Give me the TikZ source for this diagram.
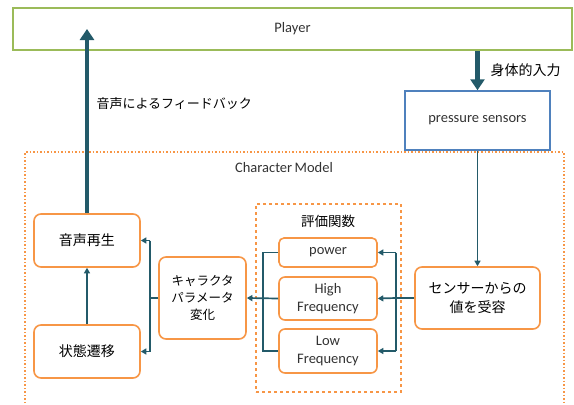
\documentclass[tikz,border=0pt]{standalone}
\usepackage{fontspec}
\setmainfont{Carlito}
\newfontfamily\jp{Noto Sans CJK JP}
\usetikzlibrary{arrows.meta}
\definecolor{ora}{RGB}{247,150,70}
\definecolor{teal2}{RGB}{35,90,105}
\definecolor{grn}{RGB}{155,187,89}
\definecolor{blu}{RGB}{79,129,189}
\tikzset{
  obox/.style={draw=ora,line width=1.6pt,rounded corners=7pt,fill=white,align=center,inner sep=0pt},
  conn/.style={draw=teal2,line width=1.7pt},
  carr/.style={conn,-{Triangle[length=5.5pt,width=6pt]}},
  bigarr/.style={draw=teal2,line width=4.5pt,-{Triangle[length=11pt,width=14pt]}},
  lat/.style={font=\fontsize{14.5}{16}\selectfont,text=black!80},
  jpt/.style={font=\jp\fontsize{14}{18}\selectfont},
}
\begin{document}
\begin{tikzpicture}[x=1pt,y=-1pt]
\useasboundingbox (0,0) rectangle (574,405);
% Player
\node[draw=grn,line width=1.8pt,minimum width=559pt,minimum height=42pt,inner sep=0pt,lat] (player) at (292.5,29) {Player};
% pressure sensors
\node[draw=blu,line width=1.5pt,minimum width=145pt,minimum height=59pt,inner sep=0pt,lat] (ps) at (477.5,120.5) {pressure sensors};
% Character model
\draw[ora,line width=1.5pt,dotted] (25,410) -- (25,152) -- (564,152) -- (564,410);
\node[lat] (cm) at (284,168) {Character\,Model};
% eval box
\node[draw=ora,line width=1.3pt,dashed,minimum width=145pt,minimum height=188pt,inner sep=0pt] (ev) at (328.5,298) {};
\node[jpt,font=\jp\fontsize{13.5}{16}\selectfont] (evt) at (328,221) {評価関数};
% boxes
\node[obox,minimum width=106pt,minimum height=53pt,jpt] (onsei) at (87,240.5) {音声再生};
\node[obox,minimum width=106pt,minimum height=53pt,jpt] (joutai) at (87,351.5) {状態遷移};
\node[obox,minimum width=87pt,minimum height=82pt,font=\jp\fontsize{12.5}{17}\selectfont] (chara) at (202.5,298) {キャラクタ\\パラメータ\\変化};
\node[obox,minimum width=98pt,minimum height=29pt,lat,rounded corners=5pt] (power) at (328,252.5) {power};
\node[obox,minimum width=98pt,minimum height=43pt,lat,rounded corners=6pt,font=\fontsize{14.5}{17.5}\selectfont] (high) at (328,298.5) {High\\Frequency};
\node[obox,minimum width=98pt,minimum height=44pt,lat,rounded corners=6pt,font=\fontsize{14.5}{17.5}\selectfont] (low) at (328,351) {Low\\Frequency};
\node[obox,minimum width=125pt,minimum height=62pt,jpt,font=\jp\fontsize{14}{19}\selectfont] (sensor) at (477.5,298) {センサーからの\\値を受容};
% big arrows
\coordinate (uptip) at (87,29);
\draw[bigarr] (onsei.north) -- (uptip);
\node[jpt,font=\jp\fontsize{13}{16}\selectfont,anchor=west] (fb) at (93,104) {音声によるフィードバック};
\draw[bigarr] (player.south -| ps.north) -- (ps.north);
\node[jpt,font=\jp\fontsize{14}{16}\selectfont,anchor=west] (body) at (487,70) {身体的入力};
% thin connectors
\draw[carr] (ps.south) -- (sensor.north);
\draw[carr] (joutai.north) -- (onsei.south);
\coordinate (lb) at (150,298);
\draw[conn] (chara.west) -- (lb);
\draw[carr] (lb |- onsei.east) -- (onsei.east);
\draw[carr] (lb |- joutai.east) -- (joutai.east);
\draw[conn] (lb |- onsei.east) -- (lb |- joutai.east);
% eval left bus
\coordinate (eb) at (263,298);
\draw[conn] (power.west) -- (eb |- power.west) -- (eb |- low.west) -- (low.west);
\draw[carr] (high.west) -- (chara.east);
% eval right bus
\coordinate (rb) at (396,298);
\draw[conn] (sensor.west) -- (rb);
\draw[conn] (rb |- power.east) -- (rb |- low.east);
\draw[carr] (rb |- power.east) -- (power.east);
\draw[carr] (rb) -- (high.east);
\draw[carr] (rb |- low.east) -- (low.east);
\end{tikzpicture}
\end{document}
